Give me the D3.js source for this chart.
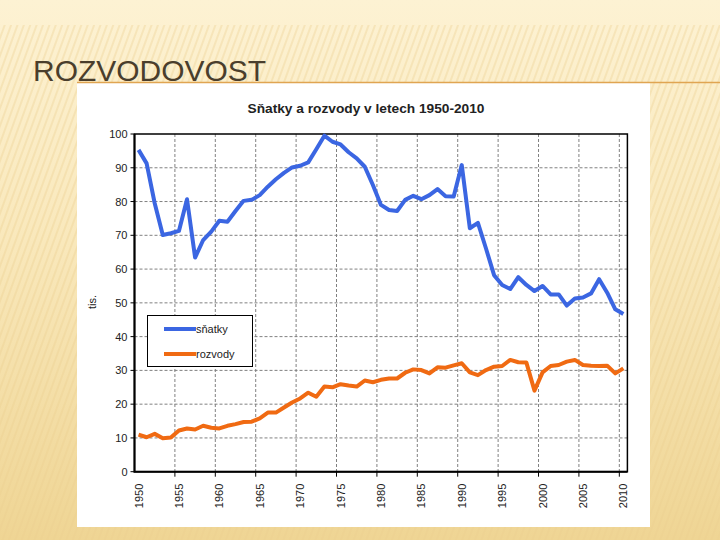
<!DOCTYPE html>
<meta charset="utf-8">
<title>Rozvodovost</title>
<style>
body { margin: 0; }
svg { display: block; font-family: "Liberation Sans", Arial, sans-serif; }
.grid line { stroke: #808080; stroke-dasharray: 3,2; stroke-width: 1; }
.tick-label { font-size: 11px; fill: #222; }
</style>
<svg width="720" height="540"></svg>
<script src="https://d3js.org/d3.v7.min.js"></script>
<script>

var years = d3.range(1950, 2011);

var snatky = [95.3, 91.3, 79.5, 70.1, 70.6, 71.3, 80.7, 63.4, 68.6, 71.1,
              74.3, 74.0, 77.2, 80.2, 80.5, 81.9, 84.4, 86.6, 88.5, 90.1,
              90.6, 91.6, 95.5, 99.5, 97.7, 96.9, 94.6, 92.8, 90.3, 84.9,
              79.0, 77.5, 77.2, 80.5, 81.7, 80.7, 81.9, 83.7, 81.6, 81.5,
              90.8, 72.1, 73.7, 66.1, 58.2, 55.3, 54.1, 57.6, 55.3, 53.5,
              55.0, 52.5, 52.5, 49.2, 51.3, 51.6, 52.8, 57.0, 53.0, 48.1,
              46.7];

var rozvody = [11.0, 10.2, 11.2, 9.9, 10.1, 12.2, 12.8, 12.5, 13.6, 13.0,
               12.8, 13.6, 14.1, 14.7, 14.8, 15.8, 17.5, 17.5, 19.0, 20.5,
               21.7, 23.4, 22.2, 25.2, 25.0, 25.9, 25.5, 25.2, 27.0, 26.5,
               27.2, 27.6, 27.6, 29.3, 30.3, 30.1, 29.1, 30.9, 30.8, 31.5,
               32.1, 29.4, 28.6, 30.1, 31.1, 31.3, 33.1, 32.4, 32.3, 24.0,
               29.4, 31.3, 31.6, 32.6, 33.1, 31.6, 31.4, 31.3, 31.4, 29.1,
               30.6];

var yTicks = [0, 10, 20, 30, 40, 50, 60, 70, 80, 90, 100];
var xLabelYears = [1950, 1955, 1960, 1965, 1970, 1975, 1980, 1985, 1990, 1995, 2000, 2005, 2010];
var seriesNames = ["sňatky", "rozvody"];
var seriesColors = ["#3b66e2", "#f06a12"];

var svg = d3.select("svg");

// slide background
var defs = svg.append("defs");
var bg = defs.append("linearGradient").attr("id", "bg")
    .attr("x1", 0).attr("y1", 0).attr("x2", 0).attr("y2", 1);
bg.append("stop").attr("offset", "0").attr("stop-color", "#fdf2d3");
bg.append("stop").attr("offset", "0.45").attr("stop-color", "#f9e8bb");
bg.append("stop").attr("offset", "1").attr("stop-color", "#efd594");

var pat = defs.append("pattern").attr("id", "stripes")
    .attr("width", 6).attr("height", 6)
    .attr("patternUnits", "userSpaceOnUse")
    .attr("patternTransform", "rotate(20)");
pat.append("rect").attr("width", 2).attr("height", 6)
    .attr("fill", "#e9cf8e").attr("opacity", 0.35);

svg.append("rect").attr("width", 720).attr("height", 540).attr("fill", "url(#bg)");
svg.append("rect").attr("y", 25).attr("width", 720).attr("height", 515).attr("fill", "url(#stripes)");

svg.append("text")
    .attr("x", 33).attr("y", 81)
    .attr("textLength", 233)
    .attr("lengthAdjust", "spacingAndGlyphs")
    .style("font-size", "30px")
    .style("fill", "#4a3e2c")
    .text("ROZVODOVOST");

// chart picture
svg.append("rect")
    .attr("x", 77).attr("y", 83).attr("width", 573).attr("height", 444)
    .attr("fill", "#fff");

svg.append("line")
    .attr("x1", 77).attr("x2", 720).attr("y1", 82.5).attr("y2", 82.5)
    .attr("stroke", "#e0a552").attr("stroke-width", 1.5);

var pLeft = 134.5, pRight = 627.4, pTop = 134, pBottom = 471.7;

var x = d3.scaleBand().domain(years).range([pLeft, pRight]);
var y = d3.scaleLinear().domain([0, 100]).range([pBottom, pTop]);
var cx = function(yr) { return x(yr) + x.bandwidth() / 2; };

svg.append("text")
    .attr("x", 366).attr("y", 113)
    .attr("text-anchor", "middle")
    .attr("textLength", 237)
    .attr("lengthAdjust", "spacingAndGlyphs")
    .style("font-size", "13px").style("font-weight", "bold").style("fill", "#222")
    .text("Sňatky a rozvody v letech 1950-2010");

var grid = svg.append("g").attr("class", "grid");
grid.selectAll(".h").data(yTicks.filter(function(d) { return d > 0 && d < 100; }))
    .enter().append("line")
    .attr("x1", pLeft).attr("x2", pRight)
    .attr("y1", function(d) { return y(d); }).attr("y2", function(d) { return y(d); });
grid.selectAll(".v").data(xLabelYears.slice(1))
    .enter().append("line")
    .attr("x1", function(d) { return x(d); }).attr("x2", function(d) { return x(d); })
    .attr("y1", pTop).attr("y2", pBottom);

// y axis labels + ticks
svg.append("g").selectAll("line").data(yTicks).enter().append("line")
    .attr("x1", pLeft - 4).attr("x2", pLeft)
    .attr("y1", function(d) { return y(d); }).attr("y2", function(d) { return y(d); })
    .attr("stroke", "#000");
svg.append("g").selectAll("text").data(yTicks).enter().append("text")
    .attr("class", "tick-label")
    .attr("x", pLeft - 7)
    .attr("y", function(d) { return y(d) + 4; })
    .attr("text-anchor", "end")
    .text(function(d) { return d; });

// x axis labels + ticks
svg.append("g").selectAll("line").data(xLabelYears.slice(1)).enter().append("line")
    .attr("x1", function(d) { return x(d); }).attr("x2", function(d) { return x(d); })
    .attr("y1", pBottom).attr("y2", pBottom + 5)
    .attr("stroke", "#000");
svg.append("g").selectAll("text").data(xLabelYears).enter().append("text")
    .attr("class", "tick-label")
    .attr("transform", function(d) { return "translate(" + (cx(d) + 4) + "," + (pBottom + 12) + ") rotate(-90)"; })
    .attr("text-anchor", "end")
    .text(function(d) { return d; });

svg.append("text")
    .attr("transform", "translate(96,302) rotate(-90)")
    .attr("text-anchor", "middle")
    .attr("class", "tick-label")
    .text("tis.");

// frame
svg.append("rect")
    .attr("x", pLeft).attr("y", pTop).attr("width", pRight - pLeft).attr("height", pBottom - pTop)
    .attr("fill", "none").attr("stroke", "#000").attr("stroke-width", 1.5);
svg.append("path")
    .attr("d", "M" + pLeft + "," + pTop + "V" + pBottom + "H" + pRight)
    .attr("fill", "none").attr("stroke", "#000").attr("stroke-width", 2);

var line = d3.line()
    .x(function(d, i) { return cx(years[i]); })
    .y(function(d) { return y(d); });

[snatky, rozvody].forEach(function(s, i) {
  svg.append("path")
      .datum(s)
      .attr("d", line)
      .attr("fill", "none")
      .attr("stroke", seriesColors[i])
      .attr("stroke-width", 4)
      .attr("stroke-linejoin", "round");
});

// legend
var lg = svg.append("g");
lg.append("rect")
    .attr("x", 147.5).attr("y", 315.5).attr("width", 105).attr("height", 51)
    .attr("fill", "#fff").attr("stroke", "#000").attr("stroke-width", 1);
seriesNames.forEach(function(n, i) {
  var ly = 329 + i * 25;
  lg.append("line")
      .attr("x1", 164).attr("x2", 196).attr("y1", ly).attr("y2", ly)
      .attr("stroke", seriesColors[i]).attr("stroke-width", 4);
  lg.append("text")
      .attr("class", "tick-label")
      .attr("x", 196).attr("y", ly + 4)
      .text(n);
});

</script>
